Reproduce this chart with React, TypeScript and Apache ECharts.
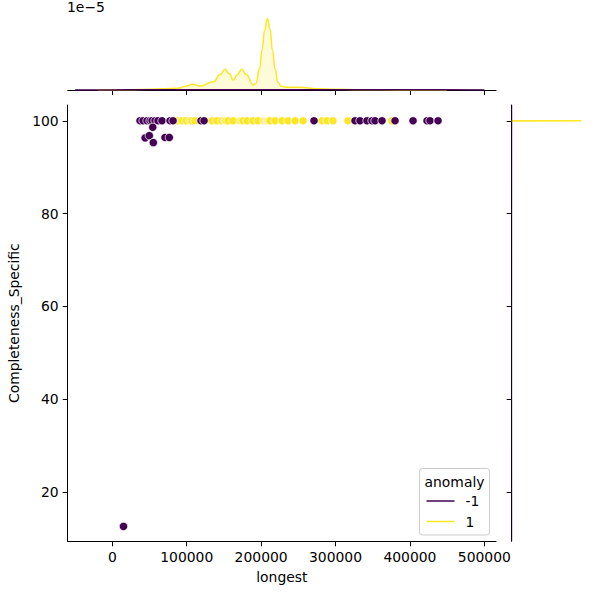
import React, { useEffect, useRef } from "react";
import * as echarts from "echarts";

// ---- tick labels ----
const xTicks = [0, 100000, 200000, 300000, 400000, 500000];
const yTicks = [20, 40, 60, 80, 100];

// ---- scatter data: anomaly = 1 (normal) ----
const normalLongest = [
  87000, 93700, 99100, 104400, 107100, 111200, 134000, 140700, 147400, 151500,
  152800, 155500, 162200, 171600, 174300, 175700, 181000, 189100, 195800, 203900,
  206600, 207900, 209300, 210600, 212000, 218700, 228100, 236200, 245600, 256300,
  281900, 288600, 296600, 316800, 375500,
];
const normalCompleteness = [
  100, 100, 100, 100, 100, 100, 100, 100, 100, 100,
  100, 100, 100, 100, 100, 100, 100, 100, 100, 100,
  100, 100, 100, 100, 100, 100, 100, 100, 100, 100,
  100, 100, 100, 100, 100,
];

// ---- scatter data: anomaly = -1 ----
const anomalyLongest = [
  37200, 41300, 46600, 50700, 53400, 57400, 61400, 66800, 77600, 81600,
  119200, 123300, 271100, 326200, 332900, 342300, 349100, 353100, 362500, 380000,
  404200, 423000, 427000, 437800,
  44000, 49700, 55100, 70800, 76600, 54300, 15000,
];
const anomalyCompleteness = [
  100, 100, 100, 100, 100, 100, 100, 100, 100, 100,
  100, 100, 100, 100, 100, 100, 100, 100, 100, 100,
  100, 100, 100, 100,
  96.3, 96.8, 95.3, 96.4, 96.4, 98.6, 12.6,
];

// ---- marginal KDE (top, along longest), density in units of 1e-5 ----
const kdeNormalX = [
  -20000, 20000, 50000, 88000, 100000, 107500, 118000, 136000, 145000, 151500,
  157000, 162600, 168000, 174000, 180000, 189500, 193000, 198000, 201200, 204600,
  208300, 212000, 215300, 218700, 222700, 226700, 234400, 252300, 274700, 301600,
  333000, 387000, 450000,
];
const kdeNormalDensity = [
  0.0, 0.005, 0.013, 0.031, 0.075, 0.104, 0.073, 0.152, 0.28, 0.379,
  0.3, 0.183, 0.28, 0.379, 0.28, 0.092, 0.12, 0.4, 0.72, 1.08,
  1.3, 1.1, 0.72, 0.38, 0.14, 0.07, 0.049, 0.049, 0.024, 0.013,
  0.005, 0.001, 0.0,
];
const kdeAnomalyX = [-50000, 0, 40000, 70000, 120000, 200000, 270000, 340000, 400000, 440000, 500000];
const kdeAnomalyDensity = [0.0, 0.001, 0.004, 0.006, 0.005, 0.003, 0.004, 0.006, 0.005, 0.003, 0.0005];

// ---- marginal KDE (right, along Completeness_Specific), arbitrary density ----
const kdeNormalYValues = [99.97, 100, 100.03];
const kdeNormalYDensity = [0, 1, 0];
const kdeAnomalyYValues = [9.4, 12, 20, 40, 60, 80, 96, 100, 103.4];
const kdeAnomalyYDensity = [0.002, 0.003, 0.002, 0.001, 0.0015, 0.002, 0.004, 0.005, 0.004];

const PURPLE = "#440154";
const YELLOW = "#fde725";
const FONT = "DejaVu Sans";
const FS = 13.9;

const zip = (a: number[], b: number[]) => a.map((v, i) => [v, b[i]]);

export default function App() {
  const ref = useRef<HTMLDivElement>(null);
  useEffect(() => {
    if (!ref.current) return;
    const chart = echarts.init(ref.current, null, { renderer: "svg" });
    const X_MIN = -60000;
    const X_MAX = 515700;
    const Y_MIN = 9.4;
    const Y_MAX = 103.4;
    const axisLine = { show: true, onZero: false, lineStyle: { color: "#000", width: 1 } };
    const tickStyle = { color: "#000", width: 1 };
    const mainL = 67.7, mainT = 105, mainW = 428.3, mainH = 436.3;

    const option: any = {
      animation: false,
      backgroundColor: "#fff",
      grid: [
        { left: mainL, top: mainT, width: mainW, height: mainH, containLabel: false, outerBoundsMode: "none" },
        { left: mainL, top: 15, width: mainW, height: 75, containLabel: false, outerBoundsMode: "none" },
        { left: 511.7, top: mainT, width: 73.3, height: mainH, containLabel: false, outerBoundsMode: "none" },
      ],
      xAxis: [
        {
          gridIndex: 0, type: "value", min: X_MIN, max: X_MAX,
          axisLine,
          axisTick: { show: true, length: 5, customValues: xTicks, lineStyle: tickStyle },
          axisLabel: { customValues: xTicks, fontSize: FS, fontFamily: FONT, color: "#000", margin: 9, formatter: (v: number) => String(v) },
          splitLine: { show: false },
          name: "longest", nameLocation: "middle", nameGap: 29,
          nameTextStyle: { fontSize: FS, fontFamily: FONT, color: "#000" },
        },
        {
          gridIndex: 1, type: "value", min: X_MIN, max: X_MAX,
          axisLine,
          axisTick: { show: true, length: 5, customValues: xTicks, lineStyle: tickStyle },
          axisLabel: { show: false },
          splitLine: { show: false },
        },
        {
          gridIndex: 2, type: "value", min: 0, max: 1.05, show: false,
          splitLine: { show: false },
        },
      ],
      yAxis: [
        {
          gridIndex: 0, type: "value", min: Y_MIN, max: Y_MAX,
          axisLine,
          axisTick: { show: true, length: 5, customValues: yTicks, lineStyle: tickStyle },
          axisLabel: { customValues: yTicks, fontSize: FS, fontFamily: FONT, color: "#000", margin: 9, formatter: (v: number) => String(v) },
          splitLine: { show: false },
          name: "Completeness_Specific", nameLocation: "middle", nameGap: 44,
          nameTextStyle: { fontSize: FS, fontFamily: FONT, color: "#000" },
        },
        {
          gridIndex: 1, type: "value", min: 0, max: 1.365, show: false,
          splitLine: { show: false },
        },
        {
          gridIndex: 2, type: "value", min: Y_MIN, max: Y_MAX,
          axisLine,
          axisTick: { show: true, length: 5, customValues: yTicks, lineStyle: tickStyle },
          axisLabel: { show: false },
          splitLine: { show: false },
        },
      ],
      series: [
        {
          type: "scatter", name: "1", xAxisIndex: 0, yAxisIndex: 0,
          data: zip(normalLongest, normalCompleteness),
          symbolSize: 8.3,
          itemStyle: { color: YELLOW, borderColor: "#fff", borderWidth: 0.75, opacity: 1 },
        },
        {
          type: "scatter", name: "-1", xAxisIndex: 0, yAxisIndex: 0,
          data: zip(anomalyLongest, anomalyCompleteness),
          symbolSize: 8.3,
          itemStyle: { color: PURPLE, borderColor: "#fff", borderWidth: 0.75, opacity: 1 },
        },
        {
          type: "line", xAxisIndex: 1, yAxisIndex: 1,
          data: zip(kdeNormalX, kdeNormalDensity),
          smooth: 0.5, smoothMonotone: "x", showSymbol: false, symbol: "none",
          lineStyle: { color: YELLOW, width: 1.5 },
          areaStyle: { color: "rgba(253,231,37,0.25)" },
        },
        {
          type: "line", xAxisIndex: 1, yAxisIndex: 1,
          data: zip(kdeAnomalyX, kdeAnomalyDensity),
          smooth: 0.5, smoothMonotone: "x", showSymbol: false, symbol: "none",
          lineStyle: { color: PURPLE, width: 1.5 },
          areaStyle: { color: "rgba(68,1,84,0.25)" },
        },
        {
          type: "line", xAxisIndex: 2, yAxisIndex: 2,
          data: zip(kdeNormalYDensity, kdeNormalYValues),
          showSymbol: false, symbol: "none",
          lineStyle: { color: YELLOW, width: 1.5 },
        },
        {
          type: "line", xAxisIndex: 2, yAxisIndex: 2,
          data: zip(kdeAnomalyYDensity, kdeAnomalyYValues),
          showSymbol: false, symbol: "none",
          lineStyle: { color: "rgba(68,1,84,0.3)", width: 1.5 },
        },
      ],
      graphic: [
        {
          type: "text", left: 67, top: 0,
          style: { text: "1e\u22125", fontSize: FS, fontFamily: FONT, fill: "#000" },
        },
        {
          type: "group", left: 419, top: 468,
          children: [
            { type: "rect", shape: { x: 0, y: 0, width: 70, height: 66.5, r: 3 }, style: { fill: "rgba(255,255,255,0.8)", stroke: "#cccccc", lineWidth: 1 } },
            { type: "text", x: 35, y: 13, style: { text: "anomaly", fontSize: FS, fontFamily: FONT, fill: "#000", align: "center", verticalAlign: "middle" } },
            { type: "line", shape: { x1: 7, y1: 32.5, x2: 35, y2: 32.5 }, style: { stroke: PURPLE, lineWidth: 1.5 } },
            { type: "text", x: 46, y: 32.5, style: { text: "-1", fontSize: FS, fontFamily: FONT, fill: "#000", align: "left", verticalAlign: "middle" } },
            { type: "line", shape: { x1: 7, y1: 53, x2: 35, y2: 53 }, style: { stroke: YELLOW, lineWidth: 1.5 } },
            { type: "text", x: 46, y: 53, style: { text: "1", fontSize: FS, fontFamily: FONT, fill: "#000", align: "left", verticalAlign: "middle" } },
          ],
        },
      ],
    };
    chart.setOption(option);
    return () => chart.dispose();
  }, []);
  return <div ref={ref} style={{ position: "fixed", left: 0, top: 0, width: 600, height: 600 }} />;
}
